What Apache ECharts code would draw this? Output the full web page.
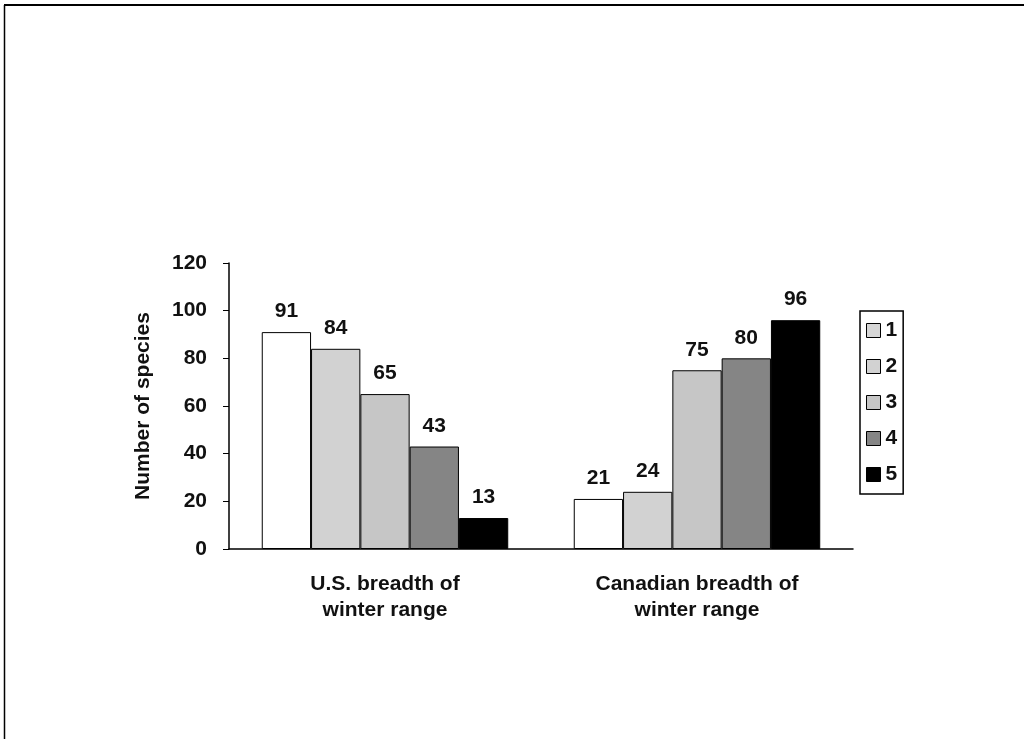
<!DOCTYPE html>
<html><head><meta charset="utf-8">
<script src="https://cdn.jsdelivr.net/npm/echarts@6/dist/echarts.min.js"></script>
<style>html,body{margin:0;padding:0;background:#fff}#c{width:1024px;height:739px}</style>
</head><body><div id="c"></div>
<script>
var categories = ['U.S. breadth of\nwinter range', 'Canadian breadth of\nwinter range'];
var seriesNames = ['1', '2', '3', '4', '5'];
var values = {
  '1': [91, 21],
  '2': [84, 24],
  '3': [65, 75],
  '4': [43, 80],
  '5': [13, 96]
};
var yTicks = [0, 20, 40, 60, 80, 100, 120];
var colors = ['#ffffff', '#d2d2d2', '#c6c6c6', '#858585', '#000000'];
var legendColors = ['#d6d6d6', '#d2d2d2', '#c6c6c6', '#858585', '#000000'];

var font = 'Liberation Sans, Arial, sans-serif';
var chart = echarts.init(document.getElementById('c'));
var series = seriesNames.map(function (n, i) {
  return {
    name: n, type: 'bar', data: values[n],
    barGap: '0%', barCategoryGap: '21%',
    itemStyle: { color: colors[i], borderColor: '#000', borderWidth: 1 },
    label: { show: true, position: 'top', distance: 10, color: '#111',
      fontFamily: font, fontWeight: 'bold', fontSize: 21 }
  };
});
chart.setOption({
  animation: false,
  backgroundColor: '#fff',
  graphic: [
    { type: 'line', shape: { x1: 4, y1: 5, x2: 1024, y2: 5 }, style: { stroke: '#000', lineWidth: 2 } },
    { type: 'line', shape: { x1: 4.5, y1: 5, x2: 4.5, y2: 739 }, style: { stroke: '#000', lineWidth: 1.5 } }
  ],
  grid: { left: 229, top: 263, right: 171, bottom: 190 },
  legend: {
    orient: 'vertical', left: 860, top: 311, padding: [9, 6, 9, 6],
    borderColor: '#000', borderWidth: 1.5, itemWidth: 14, itemHeight: 14, itemGap: 15,
    icon: 'rect',
    textStyle: { fontFamily: font, fontWeight: 'bold', fontSize: 21, color: '#111' },
    data: seriesNames.map(function (n, i) {
      return { name: n, itemStyle: { color: legendColors[i], borderColor: '#000', borderWidth: 1 } };
    })
  },
  xAxis: {
    type: 'category', data: categories,
    axisLine: { lineStyle: { color: '#000', width: 1.5 } },
    axisTick: { show: false },
    axisLabel: { margin: 22, lineHeight: 26, color: '#111', fontFamily: font, fontWeight: 'bold', fontSize: 21 }
  },
  yAxis: {
    type: 'value', min: 0, max: 120, interval: 20,
    name: 'Number of species', nameLocation: 'middle', nameGap: 75, nameRotate: 90,
    nameTextStyle: { color: '#111', fontFamily: font, fontWeight: 'bold', fontSize: 21 },
    axisLine: { show: true, lineStyle: { color: '#000', width: 1.5 } },
    axisTick: { show: true, length: 6, lineStyle: { color: '#000' } },
    splitLine: { show: false },
    axisLabel: { margin: 22, color: '#111', fontFamily: font, fontWeight: 'bold', fontSize: 21,
      formatter: function (v) { return yTicks.indexOf(v) >= 0 ? String(v) : ''; } }
  },
  series: series
});
</script></body></html>
